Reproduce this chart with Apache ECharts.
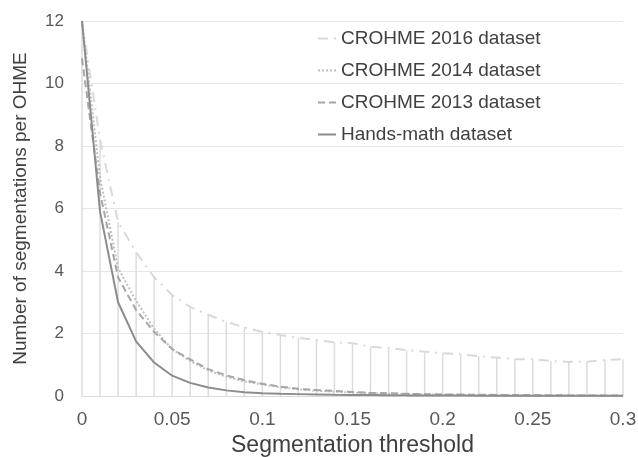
<!DOCTYPE html>
<html>
<head>
<meta charset="utf-8">
<script src="https://cdn.jsdelivr.net/npm/echarts@6/dist/echarts.min.js"></script>
<style>
  html, body { margin: 0; padding: 0; background: #fff; }
  #chart { width: 638px; height: 457px; }
</style>
</head>
<body>
<div id="chart"></div>
<script>
// 阈值 (x)
var thresholds = [0, 0.01, 0.02, 0.03, 0.04, 0.05, 0.06, 0.07, 0.08, 0.09, 0.1,
  0.11, 0.12, 0.13, 0.14, 0.15, 0.16, 0.17, 0.18, 0.19, 0.2,
  0.21, 0.22, 0.23, 0.24, 0.25, 0.26, 0.27, 0.28, 0.29, 0.3];

var crohme2016 = [12, 8.2, 5.57, 4.6, 3.8, 3.23, 2.85, 2.6, 2.37, 2.2, 2.05,
  1.95, 1.86, 1.79, 1.72, 1.69, 1.58, 1.54, 1.47, 1.42, 1.37,
  1.34, 1.27, 1.23, 1.18, 1.18, 1.12, 1.09, 1.1, 1.15, 1.18];

var crohme2014 = [12, 7.0, 4.1, 3.05, 2.15, 1.5, 1.12, 0.82, 0.62, 0.47, 0.37,
  0.28, 0.21, 0.17, 0.14, 0.11, 0.09, 0.075, 0.065, 0.055, 0.045,
  0.04, 0.035, 0.03, 0.025, 0.02, 0.02, 0.02, 0.015, 0.01, 0.01];

var crohme2013 = [10.8, 6.5, 3.8, 2.75, 2.05, 1.5, 1.17, 0.86, 0.66, 0.51, 0.39,
  0.3, 0.23, 0.19, 0.16, 0.13, 0.1, 0.09, 0.07, 0.06, 0.05,
  0.045, 0.04, 0.035, 0.03, 0.03, 0.025, 0.02, 0.02, 0.02, 0.02];

var handsMath = [12, 5.9, 3.0, 1.75, 1.07, 0.65, 0.42, 0.27, 0.18, 0.12, 0.09,
  0.07, 0.06, 0.05, 0.04, 0.035, 0.03, 0.025, 0.02, 0.02, 0.015,
  0.015, 0.01, 0.01, 0.01, 0.01, 0.01, 0.01, 0.01, 0.01, 0.01];

var seriesNames = ['CROHME 2016 dataset', 'CROHME 2014 dataset', 'CROHME 2013 dataset', 'Hands-math dataset'];

function pairs(arr) {
  return arr.map(function (v, i) { return [thresholds[i], v]; });
}

// 垂直线: 每个阈值的最大值
var dropLines = thresholds.map(function (x, i) {
  return [x, Math.max(crohme2016[i], crohme2014[i], crohme2013[i], handsMath[i])];
});

var textColor = '#595959';
var font = 'Liberation Sans, Arial, sans-serif';

var option = {
  animation: false,
  backgroundColor: '#fff',
  grid: { left: 82, right: 15, top: 21, bottom: 61, outerBoundsMode: 'none' },
  legend: {
    data: seriesNames,
    orient: 'vertical',
    left: 317,
    top: 29,
    padding: 0,
    itemWidth: 18,
    itemHeight: 12,
    itemGap: 13,
    itemStyle: { opacity: 0 },
    textStyle: { color: '#404040', fontSize: 19, fontFamily: font }
  },
  xAxis: {
    type: 'value',
    min: 0,
    max: 0.3,
    interval: 0.05,
    name: 'Segmentation threshold',
    nameLocation: 'middle',
    nameGap: 27,
    nameTextStyle: { color: '#404040', fontSize: 23, fontFamily: font },
    axisLine: { show: true, lineStyle: { color: '#d9d9d9', width: 1 } },
    axisTick: { show: false },
    splitLine: { show: false },
    axisLabel: { color: textColor, fontSize: 19, fontFamily: font, margin: 14 }
  },
  yAxis: {
    type: 'value',
    min: 0,
    max: 12,
    interval: 2,
    name: 'Number of segmentations per OHME',
    nameLocation: 'middle',
    nameGap: 52,
    nameTextStyle: { color: '#404040', fontSize: 19, fontFamily: font },
    axisLine: { show: false },
    axisTick: { show: false },
    splitLine: { lineStyle: { color: '#e6e6e6', width: 1 } },
    axisLabel: { color: textColor, fontSize: 17, fontFamily: font, margin: 18 }
  },
  series: [
    {
      name: 'drop',
      type: 'bar',
      barWidth: 1.5,
      silent: true,
      itemStyle: { color: '#dcdcdc' },
      z: 1,
      data: dropLines
    },
    {
      name: seriesNames[0],
      type: 'line',
      symbol: 'none',
      z: 2,
      lineStyle: { color: '#d9d9d9', width: 2, type: [10, 6, 2, 6] },
      itemStyle: { color: '#d9d9d9' },
      data: pairs(crohme2016)
    },
    {
      name: seriesNames[1],
      type: 'line',
      symbol: 'none',
      z: 3,
      lineStyle: { color: '#bfbfbf', width: 2, type: [2, 2] },
      itemStyle: { color: '#bfbfbf' },
      data: pairs(crohme2014)
    },
    {
      name: seriesNames[2],
      type: 'line',
      symbol: 'none',
      z: 4,
      lineStyle: { color: '#a6a6a6', width: 2, type: [7, 4] },
      itemStyle: { color: '#a6a6a6' },
      data: pairs(crohme2013)
    },
    {
      name: seriesNames[3],
      type: 'line',
      symbol: 'none',
      z: 5,
      lineStyle: { color: '#8c8c8c', width: 2, type: 'solid' },
      itemStyle: { color: '#8c8c8c' },
      data: pairs(handsMath)
    }
  ]
};

var myChart = echarts.init(document.getElementById('chart'));
myChart.setOption(option);
</script>
</body>
</html>
